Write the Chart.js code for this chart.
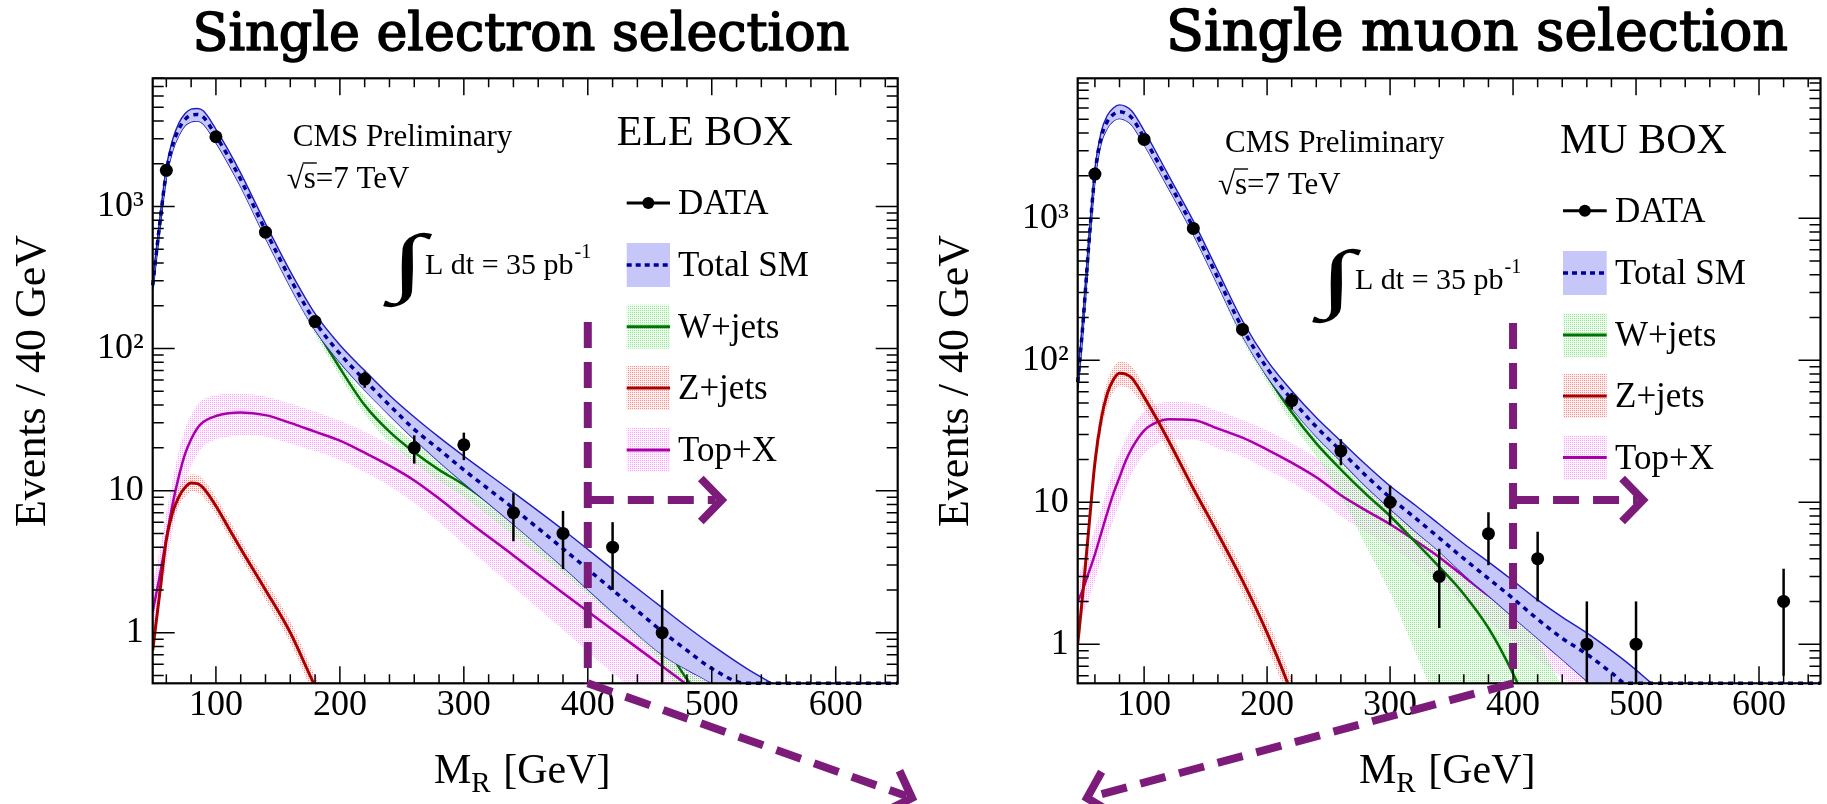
<!DOCTYPE html>
<html>
<head>
<meta charset="utf-8">
<script src="https://cdn.jsdelivr.net/npm/chart.js@4.4.1/dist/chart.umd.min.js"></script>
<style>
  html, body { margin: 0; padding: 0; background: #fff; }
  #wrap { position: relative; width: 1827px; height: 804px; overflow: hidden; }
  #wrap canvas { position: absolute; left: 0; top: 0; }
</style>
</head>
<body>
<div id="wrap">
  <canvas id="ele" width="1827" height="804"></canvas>
  <canvas id="mu" width="1827" height="804"></canvas>
</div>
<script>
// ---------- axis ticks ----------
var xTickValues = [100, 200, 300, 400, 500, 600];
var yTickValues = [1, 10, 100, 1000];
var yTickText = ['1', '10', '10\u00B2', '10\u00B3'];
var legendNames = ['DATA', 'Total SM', 'W+jets', 'Z+jets', 'Top+X'];

// ---------- single electron selection ----------
var eleX      = [49, 55, 60, 65, 70, 75, 80, 85, 90, 100, 110, 120, 140, 160, 180, 200, 220, 240, 260, 280, 300, 340, 380, 420, 460, 480, 500, 528, 560, 600, 650];
var eleSM     = [280, 800, 1750, 2700, 3500, 4100, 4400, 4450, 4250, 3150, 2250, 1550, 680, 310, 155, 92, 60, 40, 27, 19.5, 14, 7.5, 3.9, 2.0, 1.02, 0.75, 0.56, 0.44, 0.44, 0.44, 0.44];
var eleSMhi   = [300, 860, 1900, 2950, 3850, 4500, 4850, 4900, 4700, 3500, 2500, 1720, 760, 350, 176, 106, 70, 47, 33, 23.8, 17.5, 9.7, 5.3, 2.8, 1.5, 1.1, 0.82, 0.56, 0.38, 0.2, 0.1];
var eleSMlo   = [260, 740, 1600, 2450, 3150, 3700, 3950, 4000, 3800, 2820, 2000, 1380, 600, 272, 135, 80, 51, 34, 23, 16, 11.3, 5.8, 2.9, 1.4, 0.7, 0.55, 0.44, 0.3, 0.2, 0.1, 0.05];
var eleW      = [270, 770, 1690, 2620, 3400, 3980, 4280, 4320, 4120, 3050, 2170, 1490, 645, 290, 141, 73, 40, 26, 18.6, 14, 11, 6.1, 3.4, 1.8, 0.87, 0.47, 0.3, 0.17, 0.09, 0.04, 0.015];
var eleWhi    = [290, 830, 1820, 2820, 3650, 4280, 4600, 4650, 4430, 3280, 2330, 1600, 700, 318, 156, 82, 46, 30.5, 22, 16.8, 13.4, 7.8, 4.5, 2.5, 1.3, 0.75, 0.5, 0.3, 0.15, 0.07, 0.03];
var eleWlo    = [250, 710, 1560, 2420, 3150, 3680, 3960, 4000, 3810, 2820, 2000, 1380, 590, 262, 126, 64, 34.5, 22, 15.6, 11.6, 9, 4.8, 2.6, 1.3, 0.6, 0.3, 0.2, 0.1, 0.05, 0.02, 0.01];
var eleTop    = [1.4, 2.6, 4.6, 8, 12.5, 18, 23, 27.5, 30.5, 33.5, 35, 35.5, 34, 30, 26, 22.5, 18.5, 15, 11.8, 8.8, 6.4, 3.5, 1.9, 1.05, 0.58, 0.43, 0.32, 0.2, 0.12, 0.06, 0.03];
var eleTopHi  = [2.2, 4, 7, 12, 19, 27, 34, 40, 44, 47, 48, 48, 46, 41, 36, 31, 26, 21, 17, 13, 10, 6, 3.5, 2.0, 1.15, 0.85, 0.62, 0.42, 0.27, 0.15, 0.07];
var eleTopLo  = [0.9, 1.7, 3.0, 5.2, 8, 11.5, 15, 18, 20.5, 23, 24, 24.5, 24, 21.5, 19, 16.5, 13.5, 10.8, 8.2, 6.0, 4.2, 2.1, 1.05, 0.52, 0.27, 0.19, 0.13, 0.08, 0.04, 0.02, 0.01];
var eleZ      = [0.75, 2.0, 4.5, 7.0, 9.0, 10.5, 11.3, 11.2, 10.4, 7.8, 5.5, 3.9, 2.0, 1.0, 0.42, 0.2, 0.1, 0.05, 0.02, 0.01, 0.005, 0.002, 0.001, 0.001, 0.001, 0.001, 0.001, 0.001, 0.001, 0.001, 0.001];
var eleZhi    = [0.87, 2.3, 5.2, 8.1, 10.4, 12.1, 13, 12.9, 12, 9, 6.4, 4.5, 2.35, 1.2, 0.5, 0.24, 0.12, 0.06, 0.03, 0.01, 0.005, 0.002, 0.001, 0.001, 0.001, 0.001, 0.001, 0.001, 0.001, 0.001, 0.001];
var eleZlo    = [0.65, 1.74, 3.9, 6.1, 7.8, 9.1, 9.8, 9.7, 9.0, 6.8, 4.8, 3.4, 1.7, 0.85, 0.35, 0.17, 0.08, 0.04, 0.02, 0.01, 0.005, 0.002, 0.001, 0.001, 0.001, 0.001, 0.001, 0.001, 0.001, 0.001, 0.001];
var eleDataX  = [60, 100, 140, 180, 220, 260, 300, 340, 380, 420, 460];
var eleDataY  = [1800, 3100, 660, 155, 61, 20, 21, 7, 5, 4, 1];
var eleErrLo  = [1758, 3044, 634, 143, 53, 15.5, 16.4, 4.4, 2.8, 2.0, 0];
var eleErrHi  = [1842, 3156, 686, 167, 69, 24.5, 25.6, 9.6, 7.2, 6.0, 2.0];

// ---------- single muon selection ----------
var muX      = [46, 50, 55, 60, 65, 70, 75, 80, 85, 90, 100, 110, 120, 140, 160, 180, 200, 220, 240, 260, 280, 300, 320, 340, 360, 380, 400, 420, 440, 460, 480, 492, 520, 560, 600, 650];
var muSM     = [70, 170, 650, 2050, 3700, 4800, 5400, 5650, 5500, 5100, 3700, 2600, 1800, 860, 380, 168, 88, 53, 34, 23, 15.5, 10.8, 7.8, 5.6, 4.0, 2.9, 2.1, 1.5, 1.1, 0.85, 0.63, 0.53, 0.53, 0.53, 0.53, 0.53];
var muSMhi   = [78, 190, 720, 2250, 4050, 5300, 6000, 6300, 6150, 5700, 4150, 2900, 2000, 960, 425, 190, 100, 61, 39.5, 27, 18.5, 13, 9.6, 7.0, 5.1, 3.8, 2.8, 2.05, 1.55, 1.2, 0.9, 0.75, 0.47, 0.25, 0.13, 0.06];
var muSMlo   = [62, 150, 580, 1850, 3350, 4300, 4850, 5050, 4900, 4550, 3300, 2320, 1620, 770, 338, 148, 77, 46, 29, 19.5, 13, 9.0, 6.3, 4.5, 3.1, 2.2, 1.55, 1.1, 0.78, 0.55, 0.38, 0.31, 0.2, 0.1, 0.05, 0.02];
var muW      = [66, 165, 630, 1990, 3620, 4720, 5300, 5550, 5400, 5000, 3620, 2540, 1750, 830, 360, 155, 78, 43, 26, 17, 11.5, 8.0, 5.3, 3.5, 2.25, 1.3, 0.62, 0.25, 0.1, 0.04, 0.02, 0.01, 0.005, 0.002, 0.001, 0.001];
var muWhi    = [72, 180, 690, 2180, 3960, 5160, 5800, 6070, 5900, 5470, 3960, 2780, 1910, 910, 395, 172, 86, 49, 31, 21.5, 16, 12, 9, 6.8, 5, 3.5, 2.2, 1.1, 0.5, 0.25, 0.12, 0.08, 0.04, 0.01, 0.005, 0.001];
var muWlo    = [60, 150, 570, 1800, 3280, 4280, 4800, 5030, 4890, 4530, 3280, 2300, 1590, 750, 325, 138, 70, 36, 21, 11, 5, 2.3, 0.9, 0.35, 0.12, 0.04, 0.01, 0.005, 0.002, 0.001, 0.001, 0.001, 0.001, 0.001, 0.001, 0.001];
var muTop    = [2.0, 2.4, 3.2, 4.3, 6.0, 8.4, 11.5, 15, 19.5, 24, 32, 36.5, 38.5, 38, 33, 28.5, 23.5, 19, 15, 11.2, 8.8, 7.0, 5.4, 4.1, 3.0, 2.2, 1.65, 1.25, 0.95, 0.7, 0.52, 0.44, 0.3, 0.17, 0.09, 0.04];
var muTopHi  = [3.0, 3.6, 4.8, 6.5, 9, 12.5, 17, 22, 28, 34, 44, 49, 51, 50, 44, 38, 32, 26, 20.5, 15.5, 12.2, 9.8, 7.7, 5.9, 4.4, 3.3, 2.5, 1.9, 1.45, 1.1, 0.82, 0.7, 0.48, 0.28, 0.15, 0.07];
var muTopLo  = [1.3, 1.6, 2.1, 2.8, 3.9, 5.5, 7.5, 9.8, 12.8, 16, 22, 25.5, 27.5, 27.5, 24, 21, 17, 13.8, 10.8, 8.0, 6.2, 4.9, 3.7, 2.8, 2.0, 1.45, 1.05, 0.78, 0.58, 0.42, 0.3, 0.25, 0.17, 0.09, 0.05, 0.02];
var muZ      = [1.0, 2.2, 6.5, 19, 38, 58, 73, 81, 80, 75, 55, 39, 27, 12.5, 6.0, 2.8, 1.2, 0.45, 0.15, 0.05, 0.02, 0.01, 0.005, 0.002, 0.001, 0.001, 0.001, 0.001, 0.001, 0.001, 0.001, 0.001, 0.001, 0.001, 0.001, 0.001];
var muZhi    = [1.25, 2.7, 7.8, 23, 46, 71, 89, 98, 97, 90, 66, 47, 32.5, 15, 7.2, 3.4, 1.5, 0.57, 0.2, 0.07, 0.02, 0.01, 0.005, 0.002, 0.001, 0.001, 0.001, 0.001, 0.001, 0.001, 0.001, 0.001, 0.001, 0.001, 0.001, 0.001];
var muZlo    = [0.8, 1.8, 5.3, 15.5, 31, 47, 60, 66, 65, 61, 46, 32.5, 22.5, 10.4, 5.0, 2.3, 0.96, 0.35, 0.11, 0.04, 0.01, 0.005, 0.002, 0.001, 0.001, 0.001, 0.001, 0.001, 0.001, 0.001, 0.001, 0.001, 0.001, 0.001, 0.001, 0.001];
var muDataX  = [60, 100, 140, 180, 220, 260, 300, 340, 380, 420, 460, 500, 620];
var muDataY  = [2050, 3600, 850, 165, 52, 23, 10, 3, 6, 4, 1, 1, 2];
var muErrLo  = [2005, 3540, 821, 152, 45, 18.2, 6.9, 1.3, 3.6, 2.0, 0, 0, 0.6];
var muErrHi  = [2095, 3660, 879, 178, 59, 27.8, 13.1, 4.7, 8.5, 6.2, 2.0, 2.0, 3.4];

// ---------- colours ----------
var SM_FILL = 'rgb(198,198,248)';
var SM_EDGE = 'rgb(30,30,190)';
var SM_LINE = 'rgb(0,0,150)';
var W_LINE = 'rgb(0,115,0)';
var Z_LINE = 'rgb(170,0,0)';
var TOP_LINE = 'rgb(170,0,170)';
var ARROW = 'rgb(125,27,122)';
var SERIF = "'Liberation Serif', 'Times New Roman', serif";

Chart.defaults.font.family = SERIF;
Chart.defaults.color = '#000';

var panels = [
  {
    id: 'ele', title: 'Single electron selection', titleX: 521, titleW: 659, titleY: 50,
    area: { left: 152.7, right: 897.7, top: 78.3, bottom: 683.3 }, yAxisW: 152.7,
    xMin: 49, yMin: 0.44, yMax: 8000,
    x: eleX, sm: eleSM, smHi: eleSMhi, smLo: eleSMlo, w: eleW, wHi: eleWhi, wLo: eleWlo,
    top: eleTop, topHi: eleTopHi, topLo: eleTopLo, z: eleZ, zHi: eleZhi, zLo: eleZlo,
    dataX: eleDataX, dataY: eleDataY, errLo: eleErrLo, errHi: eleErrHi,
    box: 'ELE BOX', boxPos: [616.7, 145],
    cms: [292.7, 146], sqrt: [286.7, 188], integ: [390, 287], lumi: [425, 274],
    legend: { x0: 626.7, x1: 670, tx: 678, rows: [203, 265, 326.7, 388, 450] },
    yTitle: [33, 381], xTitle: [434, 783],
    arrow: { vTop: 322, hY: 500, hTip: 721.7, dTip: [912, 798] }
  },
  {
    id: 'mu', title: 'Single muon selection', titleX: 1477, titleW: 624, titleY: 50,
    area: { left: 1077.7, right: 1821.7, top: 78.3, bottom: 683.3 }, yAxisW: 110,
    xMin: 46, yMin: 0.53, yMax: 9700,
    x: muX, sm: muSM, smHi: muSMhi, smLo: muSMlo, w: muW, wHi: muWhi, wLo: muWlo,
    top: muTop, topHi: muTopHi, topLo: muTopLo, z: muZ, zHi: muZhi, zLo: muZlo,
    dataX: muDataX, dataY: muDataY, errLo: muErrLo, errHi: muErrHi,
    box: 'MU BOX', boxPos: [1560, 152.7],
    cms: [1225, 151.7], sqrt: [1218, 194], integ: [1319, 303], lumi: [1355, 289],
    legend: { x0: 1563, x1: 1606.7, tx: 1615, rows: [210.7, 273, 335, 396, 457.5] },
    yTitle: [956, 381], xTitle: [1359, 783],
    arrow: { vTop: 323, hY: 500, hTip: 1643, dTip: [1087, 798] }
  }
];

function pts(xs, ys) {
  var out = [];
  for (var i = 0; i < xs.length; i++) {
    if (ys[i] !== null && ys[i] !== undefined) out.push({ x: xs[i], y: ys[i] });
  }
  return out;
}

// ROOT-like dotted fill pattern
function dotPattern(ctx, rgb) {
  var c = document.createElement('canvas');
  c.width = 2; c.height = 2;
  var g = c.getContext('2d');
  g.fillStyle = 'rgba(' + rgb + ',0.08)';
  g.fillRect(0, 0, 2, 2);
  g.fillStyle = 'rgba(' + rgb + ',0.55)';
  g.fillRect(0, 0, 1, 1);
  return ctx.createPattern(c, 'repeat');
}

function curve(xs, ys, opts) {
  var d = {
    data: pts(xs, ys), pointRadius: 0, fill: false, tension: 0,
    cubicInterpolationMode: 'monotone', borderColor: 'rgba(0,0,0,0)', borderWidth: 0
  };
  for (var k in opts) d[k] = opts[k];
  return d;
}

function makeDatasets(P, pat) {
  return [
    { label: legendNames[0], data: pts(P.dataX, P.dataY), showLine: false, pointRadius: 6.5,
      pointBackgroundColor: '#000', pointBorderWidth: 0, order: 0, errLo: P.errLo, errHi: P.errHi },
    curve(P.x, P.sm, { label: legendNames[1], borderColor: SM_LINE, borderWidth: 3.5, borderDash: [5, 5], order: 1, clip: false }),
    curve(P.x, P.smHi, { borderColor: SM_EDGE, borderWidth: 1.4, fill: 3, backgroundColor: SM_FILL, order: 2 }),
    curve(P.x, P.smLo, { borderColor: SM_EDGE, borderWidth: 1.4, order: 2 }),
    curve(P.x, P.w, { label: legendNames[2], borderColor: W_LINE, borderWidth: 2.5, order: 3 }),
    curve(P.x, P.z, { label: legendNames[3], borderColor: Z_LINE, borderWidth: 3, order: 3 }),
    curve(P.x, P.top, { label: legendNames[4], borderColor: TOP_LINE, borderWidth: 2.5, order: 3 }),
    curve(P.x, P.wHi, { fill: 8, backgroundColor: pat.w, order: 5 }),
    curve(P.x, P.wLo, { order: 5 }),
    curve(P.x, P.zHi, { fill: 10, backgroundColor: pat.z, order: 5 }),
    curve(P.x, P.zLo, { order: 5 }),
    curve(P.x, P.topHi, { fill: 12, backgroundColor: pat.top, order: 5 }),
    curve(P.x, P.topLo, { order: 5 })
  ];
}

var errorBars = {
  id: 'errorBars',
  afterDatasetsDraw: function (chart) {
    var ds = chart.data.datasets[0], meta = chart.getDatasetMeta(0);
    var ys = chart.scales.y, a = chart.chartArea, ctx = chart.ctx;
    ctx.save();
    ctx.strokeStyle = '#000';
    ctx.lineWidth = 2.5;
    meta.data.forEach(function (pt, i) {
      var lo = ds.errLo[i] > 0 ? Math.min(a.bottom, ys.getPixelForValue(ds.errLo[i])) : a.bottom;
      var hi = Math.max(a.top, ys.getPixelForValue(ds.errHi[i]));
      ctx.beginPath();
      ctx.moveTo(pt.x, lo);
      ctx.lineTo(pt.x, hi);
      ctx.stroke();
    });
    ctx.restore();
  }
};

function dashedArrow(ctx, x1, y1, x2, y2, head) {
  var ang = Math.atan2(y2 - y1, x2 - x1);
  ctx.setLineDash([26, 14]);
  ctx.beginPath();
  ctx.moveTo(x1, y1);
  ctx.lineTo(x2 - Math.cos(ang) * 6, y2 - Math.sin(ang) * 6);
  ctx.stroke();
  ctx.setLineDash([]);
  ctx.lineJoin = 'miter';
  ctx.beginPath();
  ctx.moveTo(x2 - head * Math.cos(ang - 0.8), y2 - head * Math.sin(ang - 0.8));
  ctx.lineTo(x2, y2);
  ctx.lineTo(x2 - head * Math.cos(ang + 0.8), y2 - head * Math.sin(ang + 0.8));
  ctx.stroke();
}

function deco(P, pat) {
  return {
    id: 'deco_' + P.id,
    afterDraw: function (chart) {
      var ctx = chart.ctx, a = chart.chartArea;
      var xs = chart.scales.x, ys = chart.scales.y;
      ctx.save();

      // inward ticks (ROOT style) on all four sides
      ctx.strokeStyle = '#000';
      ctx.lineWidth = 1.5;
      ctx.beginPath();
      for (var k = -1; k <= 4; k++) {
        for (var m = 1; m <= 9; m++) {
          var v = m * Math.pow(10, k);
          if (v < P.yMin || v > P.yMax) continue;
          var py = ys.getPixelForValue(v), len = m === 1 ? 22 : 11;
          ctx.moveTo(a.left, py); ctx.lineTo(a.left + len, py);
          ctx.moveTo(a.right, py); ctx.lineTo(a.right - len, py);
        }
      }
      for (var xv = 60; xv <= 640; xv += 20) {
        var px = xs.getPixelForValue(xv), l2 = xv % 100 === 0 ? 17 : 9;
        ctx.moveTo(px, a.bottom); ctx.lineTo(px, a.bottom - l2);
        ctx.moveTo(px, a.top); ctx.lineTo(px, a.top + l2);
      }
      ctx.stroke();
      ctx.lineWidth = 2.2;
      ctx.strokeRect(a.left, a.top, a.right - a.left, a.bottom - a.top);

      // panel title (slab serif, slightly emboldened)
      ctx.fillStyle = '#000';
      ctx.textBaseline = 'alphabetic';
      ctx.font = '100px "DejaVu Serif"';
      var tw = ctx.measureText(P.title).width;
      var ts = 100 * (P.titleW - 2) / tw;
      ctx.font = ts + 'px "DejaVu Serif"';
      ctx.textAlign = 'center';
      ctx.lineWidth = 1.6;
      ctx.lineJoin = 'round';
      ctx.fillText(P.title, P.titleX, P.titleY);
      ctx.strokeText(P.title, P.titleX, P.titleY);

      // axis titles
      ctx.font = '44px ' + SERIF;
      ctx.save();
      ctx.translate(P.yTitle[0], P.yTitle[1]);
      ctx.rotate(-Math.PI / 2);
      ctx.textBaseline = 'middle';
      ctx.fillText('Events / 40 GeV', 0, 0);
      ctx.restore();
      ctx.textAlign = 'left';
      var xt = P.xTitle[0], yt = P.xTitle[1];
      ctx.font = '42px ' + SERIF;
      ctx.fillText('M', xt, yt);
      xt += ctx.measureText('M').width;
      ctx.font = '29px ' + SERIF;
      ctx.fillText('R', xt, yt + 9);
      xt += ctx.measureText('R').width + 2;
      ctx.font = '42px ' + SERIF;
      ctx.fillText(' [GeV]', xt, yt);

      // labels
      ctx.font = '31px ' + SERIF;
      ctx.fillText('CMS Preliminary', P.cms[0], P.cms[1]);
      var sx = P.sqrt[0], sy = P.sqrt[1];
      ctx.fillText('\u221A', sx, sy);
      var rw = ctx.measureText('\u221A').width;
      var sw = ctx.measureText('s').width;
      ctx.fillText('s=7 TeV', sx + rw, sy);
      ctx.lineWidth = 1.4;
      ctx.beginPath();
      ctx.moveTo(sx + rw - 1, sy - 25);
      ctx.lineTo(sx + rw + sw + 1, sy - 25);
      ctx.stroke();

      ctx.save();
      ctx.translate(P.integ[0], P.integ[1]);
      ctx.scale(1.7, 1);
      ctx.font = '76px ' + SERIF;
      ctx.fillText('\u222B', 0, 0);
      ctx.restore();
      ctx.font = '30px ' + SERIF;
      ctx.fillText('L dt = 35 pb', P.lumi[0], P.lumi[1]);
      var lw = ctx.measureText('L dt = 35 pb').width;
      ctx.font = '20px ' + SERIF;
      ctx.fillText('-1', P.lumi[0] + lw + 1, P.lumi[1] - 16);

      // legend
      ctx.font = '42px ' + SERIF;
      ctx.fillText(P.box, P.boxPos[0], P.boxPos[1]);
      var L = P.legend, bw = L.x1 - L.x0, bh = 44;
      var fills = [null, SM_FILL, pat.w, pat.z, pat.top];
      var lines = ['#000', SM_LINE, W_LINE, Z_LINE, TOP_LINE];
      for (var i = 0; i < legendNames.length; i++) {
        var cy = L.rows[i];
        if (fills[i]) {
          ctx.fillStyle = fills[i];
          ctx.fillRect(L.x0, cy - bh / 2, bw, bh);
        }
        ctx.strokeStyle = lines[i];
        ctx.lineWidth = i === 1 ? 3.5 : 3;
        ctx.setLineDash(i === 1 ? [5, 4] : []);
        ctx.beginPath();
        ctx.moveTo(L.x0, cy); ctx.lineTo(L.x1, cy);
        ctx.stroke();
        ctx.setLineDash([]);
        if (i === 0) {
          ctx.fillStyle = '#000';
          ctx.beginPath();
          ctx.arc((L.x0 + L.x1) / 2, cy, 6, 0, Math.PI * 2);
          ctx.fill();
        }
        ctx.fillStyle = '#000';
        ctx.font = '35px ' + SERIF;
        ctx.textBaseline = 'middle';
        ctx.fillText(legendNames[i], L.tx, cy + 2);
        ctx.textBaseline = 'alphabetic';
      }

      // purple signal-region arrows
      var x400 = xs.getPixelForValue(400), A = P.arrow;
      ctx.strokeStyle = ARROW;
      ctx.lineWidth = 8;
      ctx.lineCap = 'butt';
      ctx.setLineDash([26, 14]);
      ctx.beginPath();
      ctx.moveTo(x400, A.vTop); ctx.lineTo(x400, a.bottom);
      ctx.stroke();
      dashedArrow(ctx, x400, A.hY, A.hTip, A.hY, 30);
      dashedArrow(ctx, x400, a.bottom, A.dTip[0], A.dTip[1], 30);
      ctx.restore();
    }
  };
}

panels.forEach(function (P) {
  var canvas = document.getElementById(P.id);
  var ctx = canvas.getContext('2d');
  var pat = {
    w: dotPattern(ctx, '60,220,60'),
    z: dotPattern(ctx, '255,60,60'),
    top: dotPattern(ctx, '255,100,255')
  };
  new Chart(ctx, {
    type: 'line',
    data: { datasets: makeDatasets(P, pat) },
    options: {
      responsive: false,
      animation: false,
      events: [],
      layout: { padding: { left: P.area.left - P.yAxisW, right: 1827 - P.area.right, top: P.area.top, bottom: 0 } },
      scales: {
        x: {
          type: 'linear', min: P.xMin, max: 650,
          grid: { display: false, drawTicks: false }, border: { display: false },
          afterBuildTicks: function (s) { s.ticks = xTickValues.map(function (v) { return { value: v }; }); },
          afterFit: function (s) { s.height = 804 - P.area.bottom; },
          ticks: { font: { size: 36 }, padding: 1, maxRotation: 0, autoSkip: false,
                   callback: function (v) { return String(v); } }
        },
        y: {
          type: 'logarithmic', min: P.yMin, max: P.yMax,
          grid: { display: false, drawTicks: false }, border: { display: false },
          afterBuildTicks: function (s) { s.ticks = yTickValues.map(function (v) { return { value: v }; }); },
          afterFit: function (s) { s.width = P.yAxisW; },
          ticks: { font: { size: 36 }, padding: 9, autoSkip: false,
                   callback: function (v) { var i = yTickValues.indexOf(v); return i < 0 ? '' : yTickText[i]; } }
        }
      },
      plugins: { legend: { display: false }, tooltip: { enabled: false }, title: { display: false } }
    },
    plugins: [errorBars, deco(P, pat)]
  });
});
</script>
</body>
</html>
